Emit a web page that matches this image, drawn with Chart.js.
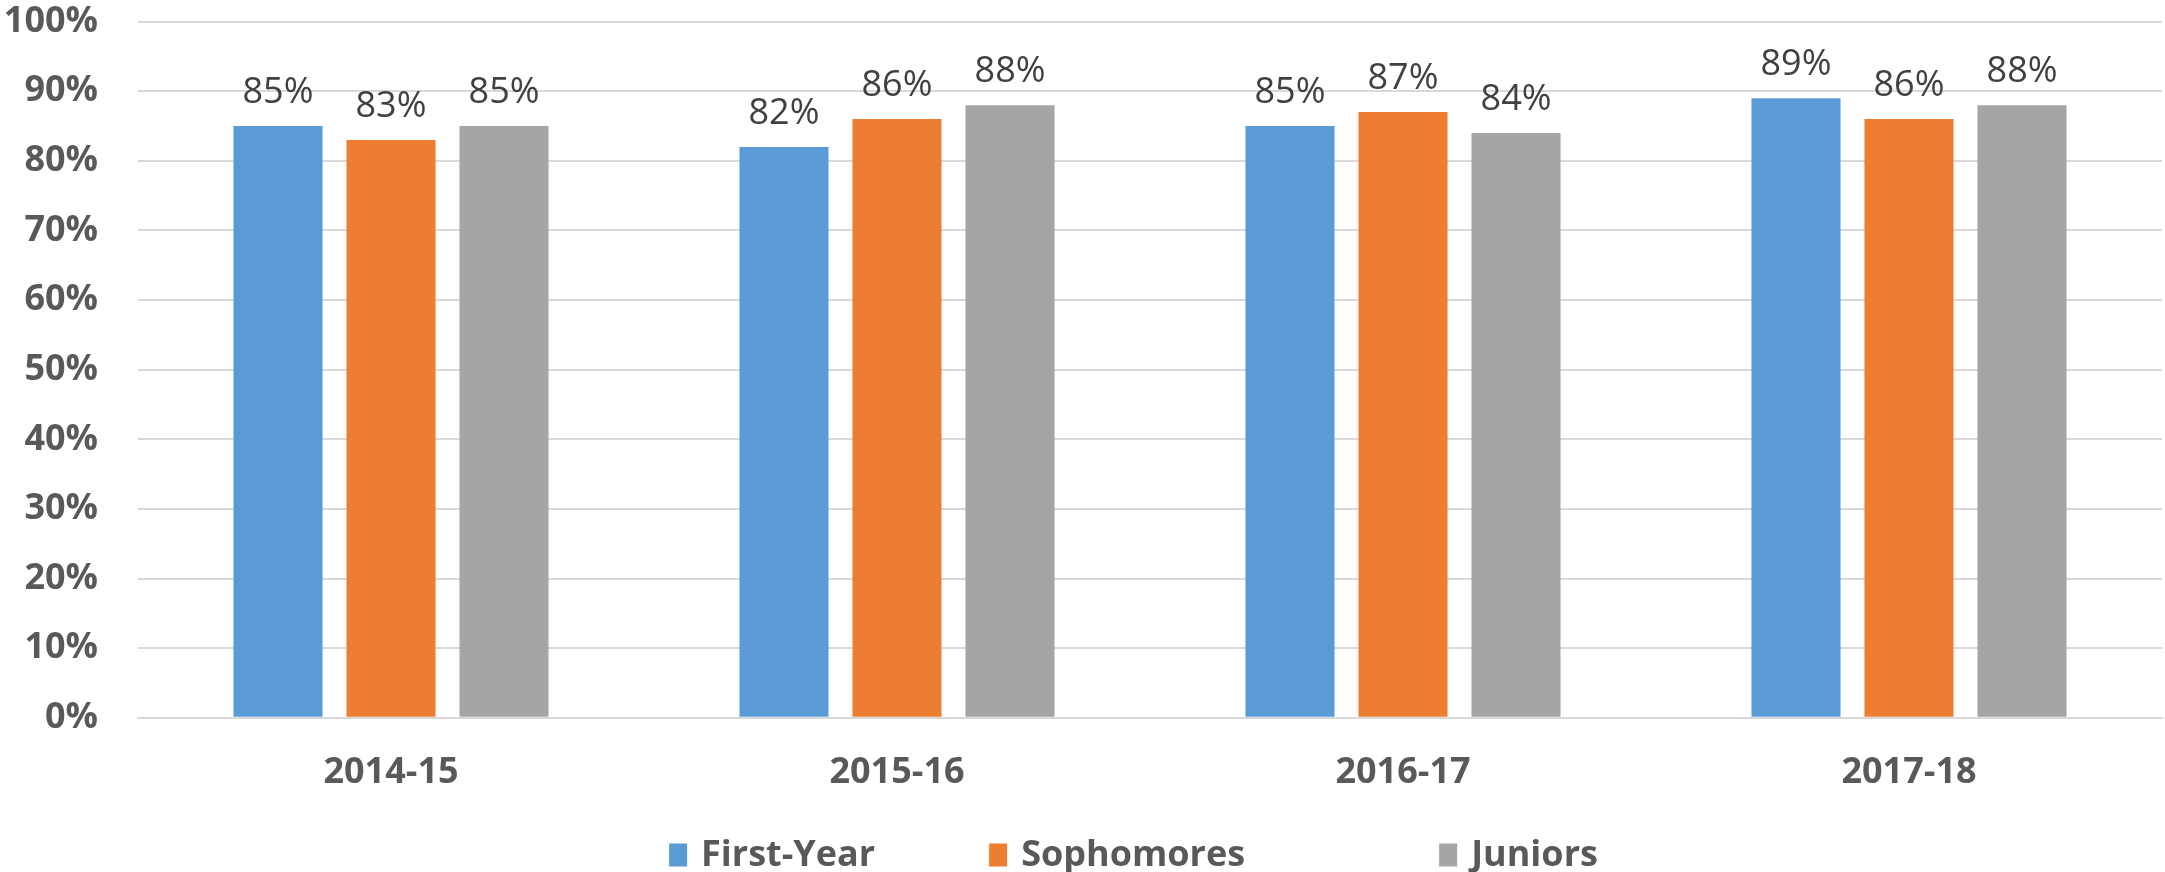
<!DOCTYPE html>
<html>
<head>
<meta charset="utf-8">
<script src="https://cdn.jsdelivr.net/npm/chart.js@4.4.0/dist/chart.umd.min.js"></script>
<style>
  html, body { margin: 0; padding: 0; background: #fff; }
  #wrap { width: 2165px; height: 872px; position: relative; }
</style>
</head>
<body>
<div id="wrap"><canvas id="myChart"></canvas></div>
<script>
// Chart data
const years = ["2014-15", "2015-16", "2016-17", "2017-18"];
const firstYear = [85, 82, 85, 89];
const sophomores = [83, 86, 87, 86];
const juniors = [85, 88, 84, 88];
const yTicks = [0, 10, 20, 30, 40, 50, 60, 70, 80, 90, 100];

const FONT = "'Open Sans', 'Liberation Sans', sans-serif";

// Draw the value labels above each bar
const barLabels = {
  id: 'barLabels',
  afterDatasetsDraw(chart) {
    const ctx = chart.ctx;
    ctx.save();
    ctx.font = "36px " + FONT;
    ctx.fillStyle = '#404040';
    ctx.textAlign = 'center';
    ctx.textBaseline = 'alphabetic';
    chart.data.datasets.forEach((ds, i) => {
      const meta = chart.getDatasetMeta(i);
      meta.data.forEach((bar, j) => {
        ctx.fillText(ds.data[j] + '%', bar.x, bar.y - 23);
      });
    });
    ctx.restore();
  }
};

// Legend row at the bottom (Excel spaces the entries unevenly)
const bottomLegend = {
  id: 'bottomLegend',
  afterDraw(chart) {
    const ctx = chart.ctx;
    const boxW = 18, boxH = 23, textGap = 14, itemGaps = [114, 194];
    const y = 855;
    ctx.save();
    ctx.font = "bold 36px " + FONT;
    ctx.textBaseline = 'middle';
    ctx.textAlign = 'left';
    const items = chart.data.datasets.map(ds => ({
      text: ds.label,
      color: ds.backgroundColor,
      w: boxW + textGap + ctx.measureText(ds.label).width
    }));
    const total = items.reduce((s, it) => s + it.w, 0) + itemGaps.reduce((s, g) => s + g, 0);
    let x = chart.width / 2 + 51 - total / 2;
    items.forEach((it, i) => {
      ctx.fillStyle = it.color;
      ctx.fillRect(x, y - boxH / 2, boxW, boxH);
      ctx.fillStyle = '#595959';
      ctx.fillText(it.text, x + boxW + textGap, y + 1);
      x += it.w + (itemGaps[i] || 0);
    });
    ctx.restore();
  }
};

const ctx = document.getElementById('myChart').getContext('2d');
window.myChart = new Chart(ctx, {
  type: 'bar',
  data: {
    labels: years,
    datasets: [
      { label: 'First-Year', data: firstYear, backgroundColor: '#5B9BD5' },
      { label: 'Sophomores', data: sophomores, backgroundColor: '#ED7D31' },
      { label: 'Juniors', data: juniors, backgroundColor: '#A5A5A5' }
    ]
  },
  options: {
    responsive: true,
    maintainAspectRatio: false,
    devicePixelRatio: 1,
    animation: false,
    categoryPercentage: 0.67,
    barPercentage: 0.788,
    layout: { padding: { top: 0, right: 3, left: 0, bottom: 45 } },
    plugins: {
      legend: { display: false },
      tooltip: { enabled: false }
    },
    scales: {
      x: {
        grid: { display: false, drawTicks: false },
        border: { display: true, color: '#D9D9D9', width: 2 },
        ticks: {
          font: { family: FONT, size: 36, weight: 'bold' },
          color: '#595959',
          padding: 33
        }
      },
      y: {
        min: 0,
        max: 100,
        afterBuildTicks: axis => { axis.ticks = yTicks.map(v => ({ value: v })); },
        afterFit: axis => { axis.width = 138; },
        // invisible tick marks give the gap between labels and grid
        grid: { color: '#D9D9D9', lineWidth: 2, drawTicks: true, tickLength: 40, tickColor: 'rgba(0,0,0,0)' },
        border: { display: false },
        ticks: {
          font: { family: FONT, size: 36, weight: 'bold' },
          color: '#595959',
          padding: 0,
          callback: v => v + '%'
        }
      }
    }
  },
  plugins: [barLabels, bottomLegend]
});
</script>
</body>
</html>
